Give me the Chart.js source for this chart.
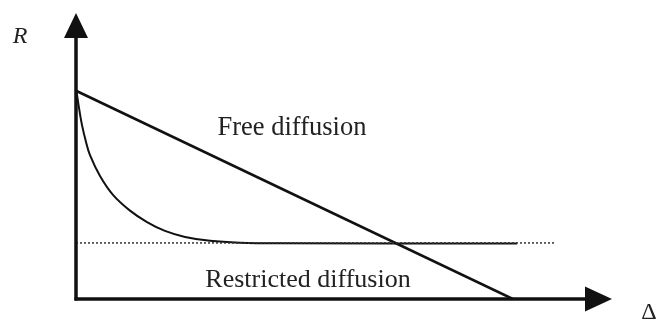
<!DOCTYPE html>
<html>
<head>
<meta charset="utf-8">
<title>Free vs restricted diffusion</title>
<script src="https://cdn.jsdelivr.net/npm/chart.js@4"></script>
<style>
    html, body { margin: 0; padding: 0; background: #fff; }
    #wrap { width: 657px; height: 320px; }
</style>
</head>
<body>
<div id="wrap"><canvas id="diffusionChart"></canvas></div>
<script>
// ============================================
// Data (Δ on x, R on y, both in arbitrary units 0-100)
// ============================================
const freeDelta = [0, 81.5];
const freeR = [72.8, 0];

const restrictedDelta = [0, 0.19, 0.56, 1.12, 1.87, 2.61, 4.48, 6.9, 10.07, 13.25, 16.6, 20.34, 25.0, 30.6, 38.06, 82.3];
const restrictedR = [72.7, 71.3, 66.8, 60.8, 54.9, 50.3, 43.0, 36.4, 30.9, 26.9, 23.8, 21.7, 20.35, 19.7, 19.5, 19.4];

const plateauDelta = [0, 89.4];
const plateauR = [19.6, 19.6];

const axisMax = 100;

function toPoints(xs, ys) {
    return xs.map((x, i) => ({ x: x, y: ys[i] }));
}

// ============================================
// Axes with arrow heads, plus text labels
// ============================================
const arrowAxes = {
    id: 'arrowAxes',
    afterDatasetsDraw(chart) {
        const ctx = chart.ctx;
        const xs = chart.scales.x;
        const ys = chart.scales.y;
        const x0 = xs.getPixelForValue(0);
        const y0 = ys.getPixelForValue(0);
        const xEnd = xs.getPixelForValue(axisMax);
        const yEnd = ys.getPixelForValue(axisMax);

        ctx.save();
        ctx.strokeStyle = '#111';
        ctx.fillStyle = '#111';
        ctx.lineWidth = 3.5;
        ctx.lineCap = 'butt';

        // vertical axis
        ctx.beginPath();
        ctx.moveTo(x0, y0 + 1.5);
        ctx.lineTo(x0, yEnd + 20);
        ctx.stroke();
        ctx.beginPath();
        ctx.moveTo(x0, yEnd);
        ctx.lineTo(x0 - 12, yEnd + 25);
        ctx.lineTo(x0 + 12, yEnd + 25);
        ctx.closePath();
        ctx.fill();

        // horizontal axis
        ctx.beginPath();
        ctx.moveTo(x0 - 1.5, y0);
        ctx.lineTo(xEnd - 20, y0);
        ctx.stroke();
        ctx.beginPath();
        ctx.moveTo(xEnd, y0);
        ctx.lineTo(xEnd - 27, y0 - 12.5);
        ctx.lineTo(xEnd - 27, y0 + 12.5);
        ctx.closePath();
        ctx.fill();

        // labels
        ctx.fillStyle = '#222';
        ctx.textAlign = 'center';
        ctx.textBaseline = 'alphabetic';
        ctx.font = 'italic 24px "Liberation Serif", serif';
        ctx.fillText('R', 20, 43);
        ctx.font = '24px "Liberation Serif", serif';
        ctx.fillText('Δ', 649, 319);
        ctx.font = '26.5px "Liberation Serif", serif';
        ctx.fillText('Free diffusion', 292, 135);
        ctx.font = '26px "Liberation Serif", serif';
        ctx.fillText('Restricted diffusion', 308, 287);
        ctx.restore();
    }
};

// ============================================
// Chart
// ============================================
function createDiffusionChart(canvasId) {
    const canvas = document.getElementById(canvasId);
    if (!canvas) return;

    new Chart(canvas, {
        type: 'scatter',
        data: {
            datasets: [
                {
                    label: 'Plateau',
                    data: toPoints(plateauDelta, plateauR),
                    showLine: true,
                    borderColor: '#333',
                    borderWidth: 1.5,
                    borderDash: [2, 2],
                    pointRadius: 0
                },
                {
                    label: 'Free diffusion',
                    data: toPoints(freeDelta, freeR),
                    showLine: true,
                    borderColor: '#111',
                    borderWidth: 2.6,
                    pointRadius: 0
                },
                {
                    label: 'Restricted diffusion',
                    data: toPoints(restrictedDelta, restrictedR),
                    showLine: true,
                    borderColor: '#111',
                    borderWidth: 2,
                    tension: 0.4,
                    pointRadius: 0
                }
            ]
        },
        options: {
            responsive: true,
            maintainAspectRatio: false,
            animation: false,
            layout: {
                padding: { left: 76, right: 45, top: 13, bottom: 21 }
            },
            plugins: {
                legend: { display: false },
                tooltip: { enabled: false }
            },
            scales: {
                x: { type: 'linear', min: 0, max: axisMax, display: false },
                y: { type: 'linear', min: 0, max: axisMax, display: false }
            }
        },
        plugins: [arrowAxes]
    });
}

createDiffusionChart('diffusionChart');
</script>
</body>
</html>
